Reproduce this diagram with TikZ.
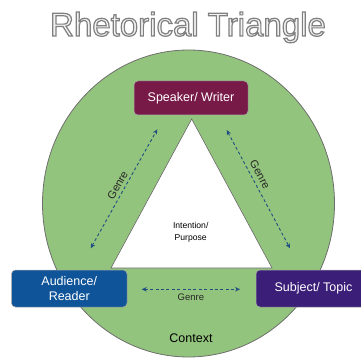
\documentclass[tikz,border=0pt]{standalone}
\usepackage{fontspec}
\setmainfont{Liberation Sans}
\usetikzlibrary{arrows.meta}
\definecolor{circgreen}{HTML}{93C47D}
\definecolor{circedge}{HTML}{6E6E6E}
\definecolor{speakercol}{HTML}{781A47}
\definecolor{audiencecol}{HTML}{0F5499}
\definecolor{subjectcol}{HTML}{3A1E78}
\definecolor{arrowcol}{HTML}{1F4E80}
\definecolor{titlefill}{HTML}{F2F2F2}
\newcommand\outlinedtext[1]{{\color{titlefill}\special{pdf:literal direct 0.5 0.5 0.5 RG 1.2 w 2 Tr}#1\special{pdf:literal direct 0 Tr}}}
\tikzset{
  rolebox/.style={rectangle, rounded corners=4pt, draw=gray!70, line width=0.5pt,
    text=white, align=center, font=\fontsize{12.5}{15}\selectfont, inner sep=0pt},
  genrearrow/.style={draw=arrowcol, line width=0.9pt, dash pattern=on 3pt off 2.4pt,
    {Stealth[length=5pt,width=4.5pt]}-{Stealth[length=5pt,width=4.5pt]}},
  genrelabel/.style={font=\fontsize{11}{12}\selectfont, text=black!85, inner sep=2pt},
}
\begin{document}
\begin{tikzpicture}[x=1pt,y=-1pt]
\useasboundingbox (0,0) rectangle (361,358);
% title
\node[anchor=base, font=\fontsize{33}{36}\selectfont, inner sep=0pt] (title) at (188,36) {\outlinedtext{Rhetorical Triangle}};
% context circle
\path[fill=circgreen, draw=circedge, line width=0.8pt] (188.5,203.5) ellipse [x radius=146, y radius=153.5];
% triangle
\coordinate (ta) at (191.7,119);
\coordinate (tl) at (111,268);
\coordinate (tr) at (272,268);
\draw[fill=white, draw=gray!80!black, line width=0.6pt] (ta) -- (tl) -- (tr) -- cycle;
% boxes
\node[rolebox, fill=speakercol, minimum width=114pt, minimum height=34pt] (speaker) at (191,98) {Speaker/ Writer};
\node[rolebox, fill=audiencecol, minimum width=115.5pt, minimum height=37pt] (audience) at (69.25,288.5) {Audience/\\Reader};
\node[rolebox, fill=subjectcol, minimum width=115pt, minimum height=37pt] (subject) at (313.5,288.5) {Subject/ Topic};
% texts
\node[font=\fontsize{8.6}{12.2}\selectfont, align=center] (intention) at (190.7,232.5) {Intention/\\Purpose};
\node[font=\fontsize{12.5}{15}\selectfont] (context) at (191,338) {Context};
% genre arrows
\coordinate (l1) at (90.7,248.3);
\coordinate (l2) at (157.3,129.3);
\coordinate (r1) at (226.7,130);
\coordinate (r2) at (290,248.3);
\coordinate (b1) at (141.7,289.3);
\coordinate (b2) at (240,289.3);
\draw[genrearrow] (l1) -- node[genrelabel, sloped, above, pos=0.5, inner sep=3pt] (gl) {Genre} (l2);
\draw[genrearrow] (r1) -- node[genrelabel, sloped, above, pos=0.41, inner sep=4pt] (gr) {Genre} (r2);
\draw[genrearrow] (b1) -- node[genrelabel, below, pos=0.5, inner sep=2pt, yshift=-2.5pt, font=\fontsize{9.5}{10}\selectfont] (gb) {Genre} (b2);
\end{tikzpicture}
\end{document}
